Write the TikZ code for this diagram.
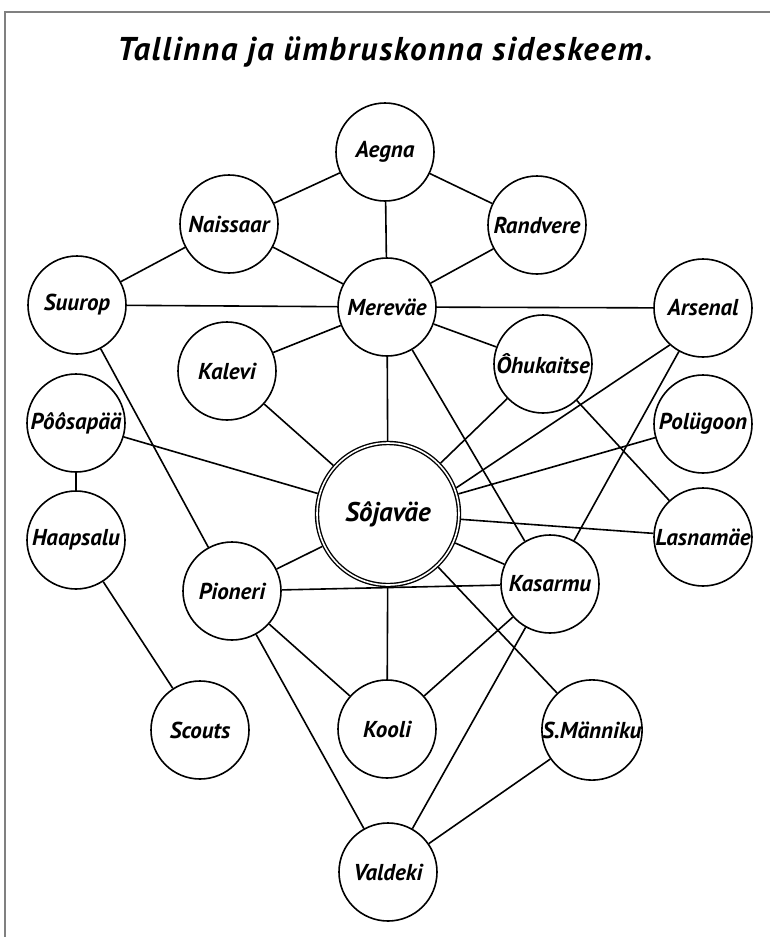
\documentclass[tikz,border=0pt]{standalone}
\usepackage{fontspec}
\newfontfamily\labfont{PT Sans}
\newfontfamily\headfont{PT Sans}[LetterSpace=5]
\begin{document}
\begin{tikzpicture}[x=1pt,y=-1pt,
  place/.style={circle, draw, line width=1.6pt, minimum size=98pt, inner sep=0pt,
                font=\labfont\bfseries\itshape\fontsize{23}{23}\selectfont},
  hub/.style={circle, draw, line width=1.4pt, double, double distance=1.6pt,
              minimum size=142pt, inner sep=0pt, outer sep=2.2pt,
              font=\labfont\bfseries\itshape\fontsize{27}{27}\selectfont},
  link/.style={line width=1.6pt},
  frame/.style={black!50, line width=2pt}]
\useasboundingbox (0,0) rectangle (770,937);
\fill[white] (0,0) rectangle (770,937);
% sheet edge
\draw[frame] (5,937) -- (5,12) -- (770,12);
% heading
\node[font=\headfont\bfseries\itshape\fontsize{33}{33}\selectfont] (title) at (385,52)
  {Tallinna ja ümbruskonna sideskeem.};
% stations
\node[place] (aeg) at (385,152) {Aegna};
\node[place] (nai) at (229,224) {Naissaar};
\node[place] (ran) at (537,225) {Randvere};
\node[place] (suu) at (77,305)  {Suurop};
\node[place] (mer) at (387,307) {Mereväe};
\node[place] (ars) at (703,308) {Arsenal};
\node[place] (kal) at (227,371) {Kalevi};
\node[place] (ohu) at (543,364) {Ôhukaitse};
\node[place] (poo) at (76,423)  {Pôôsapää};
\node[place] (pol) at (703,424) {Polügoon};
\node[hub]   (soj) at (388,514) {Sôjaväe};
\node[place] (haa) at (76,540)  {Haapsalu};
\node[place] (las) at (703,537) {Lasnamäe};
\node[place] (pio) at (232,591) {Pioneri};
\node[place] (kas) at (550,584) {Kasarmu};
\node[place] (sco) at (200,730) {Scouts};
\node[place] (koo) at (387,729) {Kooli};
\node[place] (sma) at (592,730) {S.Männiku};
\node[place] (val) at (388,872) {Valdeki};
% lines
\draw[link] (aeg) -- (nai);
\draw[link] (aeg) -- (ran);
\draw[link] (aeg) -- (mer);
\draw[link] (nai) -- (suu);
\draw[link] (nai) -- (mer);
\draw[link] (ran) -- (mer);
\draw[link] (suu) -- (mer);
\draw[link] (mer) -- (ars);
\draw[link] (mer) -- (kal);
\draw[link] (mer) -- (ohu);
\draw[link] (mer) -- (soj);
\draw[link] (mer) -- (kas);
\draw[link] (suu) -- (pio);
\draw[link] (kal) -- (soj);
\draw[link] (poo) -- (soj);
\draw[link] (poo) -- (haa);
\draw[link] (haa) -- (sco);
\draw[link] (ohu) -- (soj);
\draw[link] (ohu) -- (las);
\draw[link] (ars.228) -- (soj.21);
\draw[link] (ars) -- (kas);
\draw[link] (pol) -- (soj);
\draw[link] (las) -- (soj);
\draw[link] (soj) -- (pio);
\draw[link] (soj) -- (kas);
\draw[link] (soj) -- (koo);
\draw[link] (soj) -- (sma);
\draw[link] (pio) -- (kas);
\draw[link] (pio) -- (koo);
\draw[link] (pio) -- (val);
\draw[link] (kas) -- (koo);
\draw[link] (kas) -- (val);
\draw[link] (sma) -- (val);
\end{tikzpicture}
\end{document}
